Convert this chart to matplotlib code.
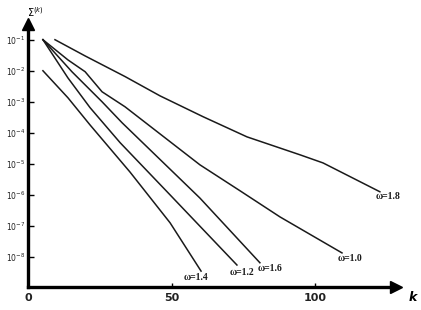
import matplotlib
matplotlib.use("Agg")
import matplotlib.pyplot as plt

# ----- data (k, residual) -----
k_w18 = [9.4, 19.9, 33.8, 46.0, 61.0, 76.3, 94.8, 102.8, 122.6]
r_w18 = [1e-1, 3.0e-2, 6.5e-3, 1.55e-3, 3.3e-4, 7.4e-5, 1.95e-5, 1.07e-5, 1.26e-6]

k_w10 = [5.2, 13.9, 19.9, 25.8, 33.8, 59.9, 73.9, 87.8, 109.4]
r_w10 = [1e-1, 2.24e-2, 9.3e-3, 2.1e-3, 6.9e-4, 9.3e-6, 1.35e-6, 1.95e-7, 1.35e-8]

k_w16 = [5.2, 15.3, 25.8, 32.8, 59.9, 80.8]
r_w16 = [1e-1, 9.3e-3, 1.0e-3, 2.1e-4, 7.9e-7, 6.5e-9]

k_w12 = [5.2, 13.9, 21.6, 32.1, 49.5, 72.8]
r_w12 = [1e-1, 5.9e-3, 6.5e-4, 4.8e-5, 1.0e-6, 5.5e-9]

k_w14 = [5.2, 13.9, 21.6, 35.5, 49.5, 60.3]
r_w14 = [1e-2, 1.35e-3, 1.8e-4, 5.5e-6, 1.26e-7, 3.5e-9]

curves = [
    (k_w18, r_w18, "ω=1.8", (8, -5)),
    (k_w10, r_w10, "ω=1.0", (8, -6)),
    (k_w16, r_w16, "ω=1.6", (10, -6)),
    (k_w12, r_w12, "ω=1.2", (5, -7)),
    (k_w14, r_w14, "ω=1.4", (-5, -6)),
]

ytick_exp = [-1, -2, -3, -4, -5, -6, -7, -8]
xticks = [0, 50, 100]

# ----- plot -----
fig = plt.figure(figsize=(4.21, 3.10), dpi=100)
ax = fig.add_axes([0.0665, 0.074, 0.874, 0.85])

for kk, rr, lab, off in curves:
    ax.plot(kk, rr, color="#1a1a1a", lw=1.1)
    ax.annotate(lab, (kk[-1], rr[-1]), xytext=off, textcoords="offset pixels",
                ha="center", va="center", fontsize=7, family="Liberation Serif",
                fontweight="bold", color="#1a1a1a")

ax.set_yscale("log")
ax.set_xlim(0, 128.2)
ax.set_ylim(10 ** -8.97, 10 ** -0.48)

ax.set_yticks([10.0 ** e for e in ytick_exp])
ax.set_yticklabels([r"$10^{%d}$" % e for e in ytick_exp], fontsize=5.5, color="#222")
ax.minorticks_off()
ax.set_xticks(xticks)
ax.set_xticklabels([str(x) for x in xticks], fontsize=8, fontweight="bold", color="#222")
ax.tick_params(axis="y", direction="in", length=4, width=1, pad=2)
ax.tick_params(axis="x", direction="in", length=3, width=1, pad=4)

for s in ["top", "right"]:
    ax.spines[s].set_visible(False)
for s in ["left", "bottom"]:
    ax.spines[s].set_linewidth(2.4)
    ax.spines[s].set_color("black")

# arrow heads
ax.plot(1, 0, ">k", markersize=9, transform=ax.transAxes, clip_on=False)
ax.plot(0, 1, "^k", markersize=9, transform=ax.transAxes, clip_on=False)

ax.text(1.045, -0.04, "k", transform=ax.transAxes, fontsize=9, style="italic",
        fontweight="bold", ha="center", va="center")
ax.text(0.02, 1.045, r"$\Sigma^{(k)}$", transform=ax.transAxes, fontsize=7,
        ha="center", va="center")

fig.savefig("out.png", dpi=100)
